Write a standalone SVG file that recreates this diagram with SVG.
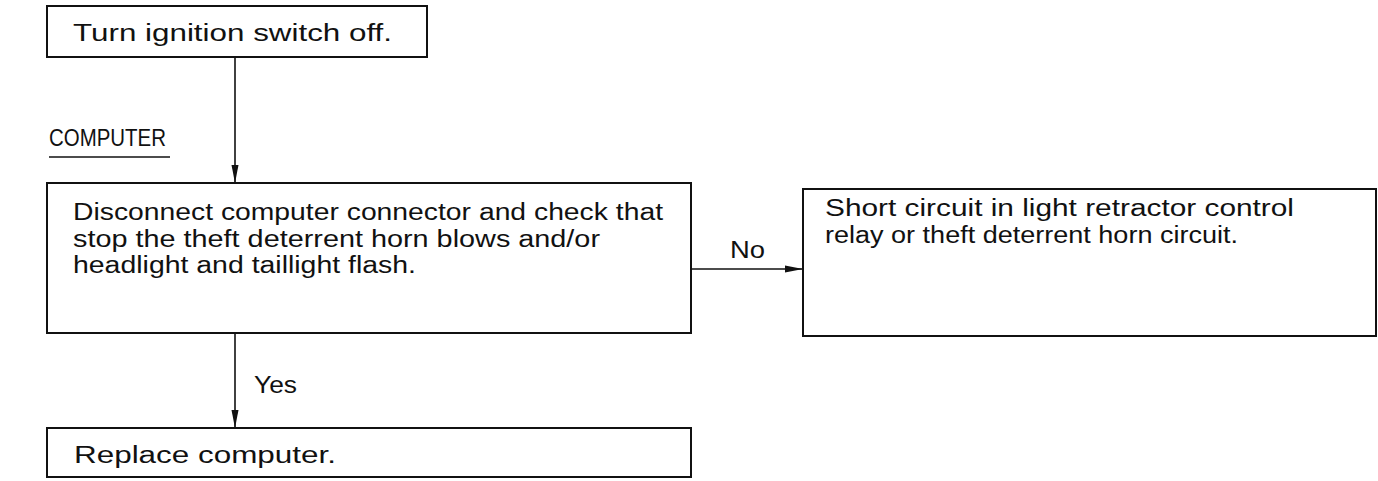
<svg xmlns="http://www.w3.org/2000/svg" width="1378" height="481" viewBox="0 0 1378 481">
<style>
.box{fill:#fff;stroke:#111;stroke-width:2}
.t{font-family:"Liberation Sans",Arial,sans-serif;font-size:23px;fill:#111}
.c{stroke:#111;stroke-width:1.6;fill:none}
</style>
<defs>
<marker id="ah" markerWidth="20" markerHeight="8" refX="18" refY="4" orient="auto" markerUnits="userSpaceOnUse">
<path d="M0,0.5 L18,4 L0,7.5 Z" fill="#111"/>
</marker>
</defs>
<rect width="1378" height="481" fill="#fff"/>
<g id="connectors">
<line class="c" x1="235" y1="57" x2="235" y2="183" marker-end="url(#ah)"/>
<line class="c" x1="691" y1="269" x2="803" y2="269" marker-end="url(#ah)"/>
<line class="c" x1="235" y1="333" x2="235" y2="428" marker-end="url(#ah)"/>
<text class="t" x="730" y="258" textLength="35" lengthAdjust="spacingAndGlyphs">No</text>
<text class="t" x="254" y="393" textLength="43" lengthAdjust="spacingAndGlyphs">Yes</text>
</g>
<g id="label-computer">
<text class="t" x="49" y="146" textLength="117" lengthAdjust="spacingAndGlyphs">COMPUTER</text>
<line x1="49" y1="157" x2="170" y2="157" stroke="#111" stroke-width="1.6"/>
</g>
<g id="n1">
<rect class="box" x="47" y="6" width="380" height="51"/>
<text class="t" x="73" y="41" textLength="319" lengthAdjust="spacingAndGlyphs">Turn ignition switch off.</text>
</g>
<g id="n2">
<rect class="box" x="47" y="183" width="644" height="150"/>
<text class="t" x="73" y="220" textLength="590" lengthAdjust="spacingAndGlyphs">Disconnect computer connector and check that</text>
<text class="t" x="73" y="247" textLength="527" lengthAdjust="spacingAndGlyphs">stop the theft deterrent horn blows and/or</text>
<text class="t" x="73" y="273" textLength="343" lengthAdjust="spacingAndGlyphs">headlight and taillight flash.</text>
</g>
<g id="n3">
<rect class="box" x="803" y="189" width="573" height="147"/>
<text class="t" x="825" y="216" textLength="469" lengthAdjust="spacingAndGlyphs">Short circuit in light retractor control</text>
<text class="t" x="825" y="243" textLength="413" lengthAdjust="spacingAndGlyphs">relay or theft deterrent horn circuit.</text>
</g>
<g id="n4">
<rect class="box" x="47" y="428" width="644" height="49"/>
<text class="t" x="74" y="463" textLength="262" lengthAdjust="spacingAndGlyphs">Replace computer.</text>
</g>
</svg>
